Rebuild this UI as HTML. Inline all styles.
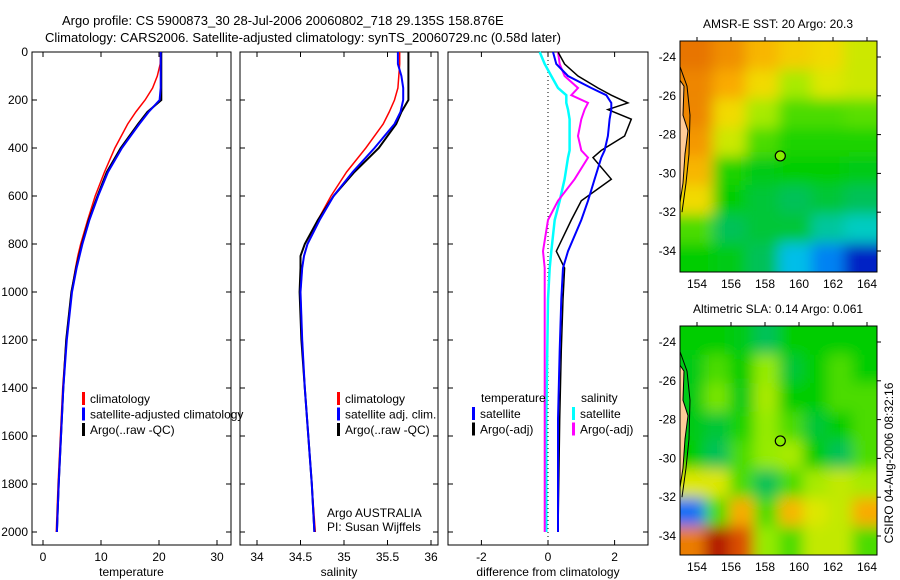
<!DOCTYPE html>
<html><head><meta charset="utf-8"><style>
body{margin:0;background:#fff;}
svg{display:block;font-family:"Liberation Sans",sans-serif;}
</style></head><body>
<svg id="c" width="900" height="580" xmlns="http://www.w3.org/2000/svg">
<defs>
<filter id="bl" x="-5%" y="-5%" width="110%" height="110%"><feGaussianBlur stdDeviation="7"/></filter>
<clipPath id="cm1"><rect x="680" y="41" width="197" height="231"/></clipPath>
<clipPath id="cm2"><rect x="680" y="326" width="197" height="229"/></clipPath>
</defs>
<text x="62" y="25" font-size="13">Argo profile: CS 5900873_30 28-Jul-2006 20060802_718 29.135S 158.876E</text>
<text x="45" y="42" font-size="13">Climatology: CARS2006. Satellite-adjusted climatology: synTS_20060729.nc (0.58d later)</text>
<g id="g"></g>
</svg>
<script>
const depth=[0,50,100,150,200,250,300,400,500,600,700,800,850,900,1000,1200,1400,1600,1800,2000];
const tClim=[20.3,20.2,19.7,18.9,17.6,16.0,14.6,12.4,10.6,9.0,7.7,6.5,6.0,5.6,4.9,4.0,3.4,3.0,2.6,2.3];
const tSatAdj=[20.3,20.3,20.3,20.3,20.1,18.2,16.6,13.6,11.2,9.5,8.0,6.8,6.3,5.8,5.0,4.1,3.5,3.1,2.7,2.4];
const tArgo=[20.4,20.4,20.4,20.4,20.4,18.0,16.4,13.4,11.0,9.4,7.9,6.7,6.2,5.7,4.9,4.0,3.5,3.1,2.7,2.4];
const sClim=[35.64,35.64,35.63,35.62,35.58,35.52,35.45,35.25,35.03,34.85,34.70,34.58,34.54,34.52,34.50,34.52,34.55,34.59,34.63,34.67];
const sSatAdj=[35.62,35.62,35.66,35.68,35.68,35.65,35.58,35.35,35.1,34.88,34.72,34.58,34.54,34.52,34.50,34.52,34.55,34.59,34.63,34.66];
const sArgo=[35.74,35.74,35.74,35.74,35.74,35.66,35.6,35.4,35.12,34.88,34.7,34.55,34.5,34.5,34.49,34.51,34.55,34.59,34.63,34.66];
const dDepth=[0,50,100,150,180,212,240,280,350,410,440,530,620,700,830,900,1030,1240,1530,2000];
const dTSat=[0.15,0.25,0.6,1.3,1.75,1.9,1.9,1.85,1.8,1.7,1.6,1.4,1.2,1.0,0.6,0.45,0.4,0.35,0.3,0.3];
const dTArgo=[0.3,0.5,0.9,1.5,1.9,2.4,1.8,2.5,2.3,1.6,1.35,1.9,1.0,0.7,0.25,0.5,0.45,0.4,0.35,0.3];
const dSSat=[-0.25,-0.1,0.1,0.3,0.55,0.55,0.6,0.65,0.65,0.65,0.6,0.5,0.35,0.2,0.1,0.05,0.0,-0.02,-0.05,-0.05];
const dSArgo=[0.3,0.35,0.5,0.9,0.7,1.2,1.1,1.0,0.9,1.0,1.2,0.8,0.3,0.0,-0.15,-0.1,-0.1,-0.1,-0.1,-0.1];
const depthTicks=[0,200,400,600,800,1000,1200,1400,1600,1800,2000];
const tTicks=[0,10,20,30];
const sTicks=[34,34.5,35,35.5,36];
const dTicks=[-2,0,2];
const sstGrid=[[0.86,0.83,0.78,0.74,0.72,0.66],[0.84,0.8,0.72,0.62,0.68,0.66],[0.84,0.72,0.62,0.55,0.55,0.56],[0.82,0.66,0.55,0.52,0.52,0.52],[0.78,0.52,0.48,0.5,0.5,0.48],[0.72,0.5,0.45,0.42,0.45,0.42],[0.55,0.42,0.45,0.45,0.36,0.33],[0.5,0.48,0.42,0.28,0.22,0.08]];
const slaGrid=[[0.5,0.5,0.48,0.42,0.5,0.5,0.5,0.5],[0.48,0.55,0.5,0.6,0.45,0.5,0.55,0.5],[0.48,0.58,0.48,0.62,0.5,0.5,0.55,0.55],[0.48,0.45,0.52,0.6,0.55,0.45,0.5,0.55],[0.5,0.42,0.55,0.6,0.62,0.5,0.42,0.55],[0.68,0.68,0.55,0.42,0.55,0.62,0.65,0.62],[0.2,0.55,0.8,0.55,0.78,0.68,0.65,0.8],[0.85,0.97,0.9,0.6,0.55,0.65,0.65,0.55]];
const lonTicks=[154,156,158,160,162,164];
const latTicks=[-24,-26,-28,-30,-32,-34];
const argoLon=158.9, argoLat=-29.1;

const NS="http://www.w3.org/2000/svg";
const G=document.getElementById('g');
function mk(t,a,p){const e=document.createElementNS(NS,t);for(const k in a)e.setAttribute(k,a[k]);(p||G).appendChild(e);return e;}
const yD=d=>52+d*0.24;
function panel(x0,x1,xs,ticks,fmt,label,name,showY){
  const fr=mk('rect',{x:x0,y:52,width:x1-x0,height:493,fill:'none',stroke:'#000','stroke-width':1});
  
  
  ticks.forEach(v=>{const x=xs(v);
    mk('line',{x1:x,x2:x,y1:545,y2:540,stroke:'#000'});mk('line',{x1:x,x2:x,y1:52,y2:57,stroke:'#000'});
    const t=mk('text',{x:x,y:561,'font-size':12,'text-anchor':'middle'});t.textContent=fmt(v);
    
    });
  depthTicks.forEach(d=>{const y=yD(d);
    mk('line',{x1:x0,x2:x0+5,y1:y,y2:y,stroke:'#000'});mk('line',{x1:x1,x2:x1-5,y1:y,y2:y,stroke:'#000'});
    if(showY){const t=mk('text',{x:28,y:y+4,'font-size':12,'text-anchor':'end'});t.textContent=d;
    
    }});
  const l=mk('text',{x:(x0+x1)/2,y:576,'font-size':12,'text-anchor':'middle'});l.textContent=label;
  
  
}
function line(xs,vals,dep,col,w,name){
  const p=mk('polyline',{points:vals.map((v,i)=>xs(v).toFixed(1)+','+yD(dep[i]).toFixed(1)).join(' '),fill:'none',stroke:col,'stroke-width':w});
  
  
}
function legend(x,y,items,name){
  items.forEach((it,i)=>{const yy=y+i*15.5;
    mk('rect',{x:x,y:yy-10,width:3,height:13,fill:it[0]});
    const t=mk('text',{x:x+8,y:yy+1,'font-size':12});t.textContent=it[1];
    
    });
}
const xT=v=>43+v*5.8;
panel(32,231,xT,tTicks,v=>v,'temperature','temperature-panel',true);
line(xT,tClim,depth,'#f00',1.5,'temp-climatology-line');
line(xT,tArgo,depth,'#000',2,'temp-argo-line');
line(xT,tSatAdj,depth,'#00f',2,'temp-satellite-line');
legend(82,402,[['#f00','climatology'],['#00f','satellite-adjusted climatology'],['#000','Argo(..raw -QC)']],'temp-legend');
const xS=v=>257+(v-34)*87;
panel(240,438,xS,sTicks,v=>v,'salinity','salinity-panel',false);
line(xS,sClim,depth,'#f00',1.5,'sal-climatology-line');
line(xS,sArgo,depth,'#000',2,'sal-argo-line');
line(xS,sSatAdj,depth,'#00f',2,'sal-satellite-line');
legend(337,402,[['#f00','climatology'],['#00f','satellite adj. clim.'],['#000','Argo(..raw -QC)']],'sal-legend');
[['Argo AUSTRALIA',517],['PI: Susan Wijffels',531]].forEach(a=>{const t=mk('text',{x:327,y:a[1],'font-size':12});t.textContent=a[0];
  
  });
const xDf=v=>548+v*33.3;
panel(448,648,xDf,dTicks,v=>v,'difference from climatology','difference-panel',false);
mk('line',{x1:548,x2:548,y1:52,y2:545,stroke:'#000','stroke-dasharray':'1,3'});
line(xDf,dSSat,dDepth,'#0ff',2.5,'diff-sal-satellite-line');
line(xDf,dSArgo,dDepth,'#f0f',2,'diff-sal-argo-line');
line(xDf,dTArgo,dDepth,'#000',1.5,'diff-temp-argo-line');
line(xDf,dTSat,dDepth,'#00f',2,'diff-temp-satellite-line');
const th=mk('text',{x:481,y:402,'font-size':12});th.textContent='temperature';


const sh=mk('text',{x:581,y:402,'font-size':12});sh.textContent='salinity';


legend(472,417,[['#00f','satellite'],['#000','Argo(-adj)']],'diff-temp-legend');
legend(572,417,[['#0ff','satellite'],['#f0f','Argo(-adj)']],'diff-sal-legend');
const cmapStops=[[0,[0,0,130]],[0.15,[0,60,255]],[0.3,[0,210,230]],[0.4,[0,190,110]],[0.5,[0,205,0]],[0.6,[150,235,0]],[0.7,[240,230,0]],[0.8,[250,170,0]],[0.9,[220,80,0]],[1,[160,0,0]]];
function cmap(v){v=Math.max(0,Math.min(1,v));
  for(let i=1;i<cmapStops.length;i++){const a=cmapStops[i-1],b=cmapStops[i];
    if(v<=b[0]){const f=(v-a[0])/(b[0]-a[0]);const c=a[1].map((x,k)=>Math.round(x+(b[1][k]-x)*f));return `rgb(${c[0]},${c[1]},${c[2]})`;}}
  return 'rgb(160,0,0)';}
function map(y0,h,grid,title,name,clip){
  const xL=lon=>680+(lon-153)*17;
  const yL=lat=>y0+16+(-24-lat)*19.4;
  const gg=mk('g',{'clip-path':'url(#'+clip+')'});
  
  
  const inner=mk('g',{filter:'url(#bl)'},gg);
  const rows=grid.length,cols=grid[0].length,cw=197/cols,rh=h/rows;
  mk('rect',{x:660,y:y0-20,width:240,height:h+40,fill:cmap(0.5)},inner);
  grid.forEach((row,r)=>row.forEach((v,c)=>{
    const cell=mk('rect',{x:680+c*cw-(c==0?20:0),y:y0+r*rh-(r==0?20:0),width:cw+(c==0||c==cols-1?20:0),height:rh+(r==0||r==rows-1?20:0),fill:cmap(v)},inner);
    
    }));
  const land=mk('polygon',{points:`680,${yL(-25.2)} 684,${yL(-25.5)} 683,${yL(-27)} 688,${yL(-27.8)} 685,${yL(-29)} 683,${yL(-30.5)} 680,${yL(-31.5)}`,fill:'#fc9',stroke:'#000','stroke-width':1},gg);
  
  
  mk('polyline',{points:`680,${yL(-24.5)} 687,${yL(-25.5)} 690,${yL(-27)} 689,${yL(-29)} 686,${yL(-30.5)} 682,${yL(-32)}`,fill:'none',stroke:'#000'},gg);
  const fr=mk('rect',{x:680,y:y0,width:197,height:h,fill:'none',stroke:'#000'});
  
  
  const pt=mk('circle',{cx:xL(argoLon),cy:yL(argoLat),r:5,fill:'#8e0',stroke:'#000','stroke-width':1.2});
  
  
  lonTicks.forEach(l=>{const x=xL(l);mk('line',{x1:x,x2:x,y1:y0,y2:y0-4,stroke:'#000'});
    const t=mk('text',{x:x,y:y0+h+16,'font-size':12,'text-anchor':'middle'});t.textContent=l;
    
    });
  latTicks.forEach(l=>{const y=yL(l);mk('line',{x1:877,x2:881,y1:y,y2:y,stroke:'#000'});
    const t=mk('text',{x:676,y:y+4,'font-size':12,'text-anchor':'end'});t.textContent=l;
    
    });
  const tt=mk('text',{x:778,y:y0-13,'font-size':12,'text-anchor':'middle'});tt.textContent=title;
  
  
}
map(41,231,sstGrid,'AMSR-E SST: 20 Argo: 20.3','sst-map','cm1');
map(326,229,slaGrid,'Altimetric SLA: 0.14 Argo: 0.061','sla-map','cm2');
const st=mk('text',{x:0,y:0,'font-size':12,'text-anchor':'middle',transform:'translate(893,463) rotate(-90)'});st.textContent='CSIRO 04-Aug-2006 08:32:16';


</script>
</body></html>
